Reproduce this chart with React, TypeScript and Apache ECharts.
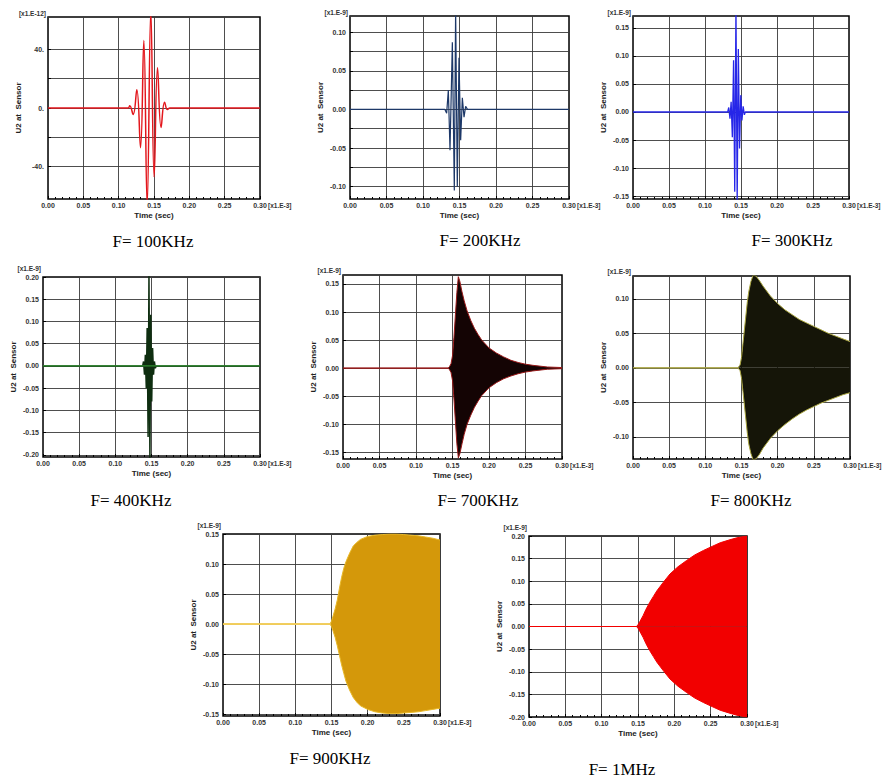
import React, { useEffect, useRef } from "react";
import * as echarts from "echarts";

// ---------- data (time in 1e-3 s, U2 scaled by the unit shown on each panel) ----------
const captions = ["F= 100KHz", "F= 200KHz", "F= 300KHz", "F= 400KHz", "F= 700KHz", "F= 800KHz", "F= 900KHz", "F= 1MHz"];
const yUnits = ["[x1.E-12]", "[x1.E-9]", "[x1.E-9]", "[x1.E-9]", "[x1.E-9]", "[x1.E-9]", "[x1.E-9]", "[x1.E-9]"];
const xUnit = "[x1.E-3]";

// 100 KHz burst extrema (x1.E-12)
const t100 = [0, 0.1134, 0.1157, 0.1205, 0.1257, 0.1309, 0.1356, 0.1403, 0.1455, 0.1502, 0.155, 0.16, 0.165, 0.169, 0.1724, 0.3];
const u100 = [0, 0, 1.5, -4.4, 12.5, -27, 46, -66, 66, -47, 27.5, -13.3, 4, -1, 0, 0];

// 200 KHz burst extrema
const t200 = [0, 0.13, 0.1324, 0.1347, 0.137, 0.1402, 0.1429, 0.1447, 0.147, 0.1493, 0.1516, 0.1539, 0.1562, 0.1584, 0.161, 0.3];
const u200 = [0, 0, -0.005, 0.025, -0.053, 0.087, -0.105, 0.13, -0.1, 0.067, -0.04, 0.015, -0.01, 0.004, 0, 0];

// 300 KHz burst extrema
const t300 = [0, 0.1315, 0.133, 0.1347, 0.1363, 0.138, 0.1397, 0.1413, 0.143, 0.1447, 0.1463, 0.148, 0.1497, 0.1513, 0.153, 0.1547, 0.156, 0.3];
const u300 = [0, 0, 0.008, -0.012, 0.018, -0.045, 0.092, -0.142, 0.19, -0.16, 0.112, -0.065, 0.03, -0.015, 0.01, -0.005, 0, 0];

// 400 KHz burst extrema
const t400 = [0, 0.1378, 0.139, 0.1403, 0.1415, 0.1428, 0.144, 0.1453, 0.1465, 0.1478, 0.149, 0.1503, 0.1515, 0.1528, 0.154, 0.1553, 0.1565, 0.3];
const u400 = [0, 0, 0.01, -0.02, 0.025, -0.05, 0.085, -0.16, 0.21, -0.21, 0.115, -0.08, 0.04, -0.02, 0.01, -0.005, 0, 0];

// 700 KHz envelope
const t700 = [0, 0.144, 0.146, 0.148, 0.15, 0.152, 0.154, 0.156, 0.158, 0.16, 0.163, 0.166, 0.17, 0.175, 0.18, 0.185, 0.19, 0.2, 0.21, 0.22, 0.23, 0.24, 0.25, 0.26, 0.28, 0.3];
const up700 = [0, 0, 0.003, 0.008, 0.022, 0.055, 0.095, 0.135, 0.163, 0.155, 0.136, 0.12, 0.102, 0.085, 0.071, 0.06, 0.05, 0.036, 0.027, 0.02, 0.014, 0.01, 0.007, 0.005, 0.002, 0.001];
const lo700 = [0, 0, -0.003, -0.008, -0.022, -0.055, -0.095, -0.135, -0.16, -0.153, -0.135, -0.118, -0.1, -0.084, -0.07, -0.059, -0.049, -0.035, -0.026, -0.019, -0.014, -0.01, -0.007, -0.005, -0.002, -0.001];

// 800 KHz envelope
const t800 = [0, 0.145, 0.148, 0.15, 0.152, 0.154, 0.156, 0.158, 0.16, 0.163, 0.166, 0.17, 0.175, 0.18, 0.19, 0.2, 0.21, 0.22, 0.23, 0.24, 0.25, 0.26, 0.27, 0.28, 0.29, 0.3];
const up800 = [0, 0, 0.004, 0.015, 0.035, 0.055, 0.075, 0.095, 0.11, 0.125, 0.134, 0.133, 0.126, 0.118, 0.104, 0.093, 0.084, 0.077, 0.07, 0.065, 0.06, 0.055, 0.05, 0.046, 0.042, 0.038];
const lo800 = [0, 0, -0.004, -0.015, -0.034, -0.054, -0.074, -0.094, -0.11, -0.124, -0.133, -0.132, -0.125, -0.116, -0.102, -0.091, -0.082, -0.074, -0.067, -0.061, -0.056, -0.051, -0.047, -0.043, -0.039, -0.036];

// 900 KHz envelope
const t900 = [0, 0.148, 0.15, 0.152, 0.155, 0.158, 0.161, 0.164, 0.167, 0.17, 0.175, 0.18, 0.185, 0.19, 0.2, 0.21, 0.22, 0.23, 0.24, 0.25, 0.26, 0.27, 0.28, 0.29, 0.3];
const up900 = [0, 0, 0.005, 0.013, 0.025, 0.04, 0.06, 0.078, 0.093, 0.104, 0.118, 0.13, 0.136, 0.141, 0.146, 0.148, 0.149, 0.15, 0.15, 0.149, 0.148, 0.147, 0.145, 0.143, 0.14];
const lo900 = [0, 0, -0.004, -0.011, -0.022, -0.036, -0.052, -0.068, -0.082, -0.095, -0.11, -0.122, -0.13, -0.136, -0.142, -0.146, -0.148, -0.149, -0.149, -0.148, -0.147, -0.146, -0.144, -0.142, -0.14];

// 1 MHz envelope
const t1000 = [0, 0.148, 0.15, 0.153, 0.157, 0.161, 0.166, 0.171, 0.176, 0.185, 0.194, 0.205, 0.217, 0.228, 0.24, 0.252, 0.263, 0.275, 0.286, 0.3];
const up1000 = [0, 0, 0.004, 0.012, 0.024, 0.038, 0.053, 0.066, 0.079, 0.098, 0.116, 0.132, 0.146, 0.158, 0.168, 0.177, 0.185, 0.191, 0.196, 0.2];
const lo1000 = [0, 0, -0.004, -0.012, -0.024, -0.038, -0.053, -0.066, -0.079, -0.098, -0.116, -0.132, -0.146, -0.158, -0.168, -0.177, -0.185, -0.191, -0.196, -0.2];

// y axis ranges, grid-line values and labelled values
const yMin = [-62, -0.116, -0.155, -0.205, -0.162, -0.132, -0.153, -0.2];
const yMax = [62, 0.121, 0.171, 0.2, 0.166, 0.133, 0.15, 0.2];
const yGridValues = [
  [-40, -20, 0, 20, 40],
  [-0.1, -0.075, -0.05, -0.025, 0, 0.025, 0.05, 0.075, 0.1],
  [-0.15, -0.1, -0.05, 0, 0.05, 0.1, 0.15],
  [-0.2, -0.15, -0.1, -0.05, 0, 0.05, 0.1, 0.15, 0.2],
  [-0.15, -0.1, -0.05, 0, 0.05, 0.1, 0.15],
  [-0.1, -0.05, 0, 0.05, 0.1],
  [-0.15, -0.1, -0.05, 0, 0.05, 0.1, 0.15],
  [-0.2, -0.15, -0.1, -0.05, 0, 0.05, 0.1, 0.15, 0.2],
];
const yLabelValues = [
  [-40, 0, 40],
  [-0.1, -0.05, 0, 0.05, 0.1],
  [-0.15, -0.1, -0.05, 0, 0.05, 0.1, 0.15],
  [-0.2, -0.15, -0.1, -0.05, 0, 0.05, 0.1, 0.15, 0.2],
  [-0.15, -0.1, -0.05, 0, 0.05, 0.1, 0.15],
  [-0.1, -0.05, 0, 0.05, 0.1],
  [-0.15, -0.1, -0.05, 0, 0.05, 0.1, 0.15],
  [-0.2, -0.15, -0.1, -0.05, 0, 0.05, 0.1, 0.15, 0.2],
];

// ---------- layout & style ----------
const layout = [
  { left: 48, top: 17, width: 212, height: 182, cx: 153, cy: 241, uy: 4 },
  { left: 350, top: 16, width: 219, height: 183, cx: 480, cy: 240, uy: 4 },
  { left: 633, top: 16, width: 216, height: 183, cx: 792, cy: 240, uy: 4 },
  { left: 43, top: 277, width: 217, height: 180, cx: 131, cy: 500, uy: 9 },
  { left: 343, top: 275, width: 219, height: 184, cx: 478, cy: 500, uy: 5 },
  { left: 633, top: 276, width: 217, height: 183, cx: 751, cy: 500, uy: 5 },
  { left: 223, top: 534, width: 217, height: 182, cx: 330, cy: 758, uy: 9 },
  { left: 529, top: 536, width: 218, height: 181, cx: 622, cy: 769, uy: 9 },
];

const SANS = "Liberation Sans, Arial, sans-serif";
const SERIF = "Liberation Serif, Times New Roman, serif";

const pairs = (t: number[], v: number[]) => t.map((x, k) => [x, v[k]]);

function lineSeries(i: number, data: number[][], color: string, width: number, smooth: number | boolean = false, z = 2) {
  return {
    type: "line",
    xAxisIndex: i,
    yAxisIndex: i,
    data,
    showSymbol: false,
    smooth,
    z,
    lineStyle: { color, width },
    itemStyle: { color },
  };
}

function bandSeries(i: number, data: number[][], fill: string, edge: string) {
  return {
    type: "line",
    xAxisIndex: i,
    yAxisIndex: i,
    data,
    showSymbol: false,
    lineStyle: { color: edge, width: 1 },
    itemStyle: { color: edge },
    areaStyle: { color: fill, opacity: 1 },
  };
}

export default function App() {
  const ref = useRef<HTMLDivElement>(null);

  useEffect(() => {
    if (!ref.current) return;
    const chart = echarts.init(ref.current, undefined, { renderer: "svg" });

    const grid = layout.map((p) => ({
      left: p.left,
      top: p.top,
      width: p.width,
      height: p.height,
      show: true,
      borderColor: "#000",
      borderWidth: 1.5,
      backgroundColor: "#fff",
      containLabel: false,
    }));

    const xAxis = layout.map((_, i) => ({
      type: "value",
      gridIndex: i,
      position: "bottom",
      min: 0,
      max: 0.3,
      interval: 0.05,
      axisLine: { show: false, onZero: false },
      axisTick: { show: true, inside: true, length: 3, lineStyle: { color: "#000" } },
      minorTick: { show: true, splitNumber: 5, length: 2, lineStyle: { color: "#000" } },
      splitLine: { show: true, lineStyle: { color: "#3a3a3a", width: 0.9 } },
      axisLabel: {
        fontSize: 7,
        fontWeight: "bold",
        fontFamily: SANS,
        color: "#333",
        margin: 3,
        formatter: (v: number) => v.toFixed(2),
      },
      name: "Time (sec)",
      nameLocation: "middle",
      nameGap: 12,
      nameTextStyle: { fontSize: 8, fontWeight: "bold", fontFamily: SANS, color: "#222" },
    }));

    const yAxis = layout.map((_, i) => ({
      type: "value",
      gridIndex: i,
      position: "left",
      min: yMin[i],
      max: yMax[i],
      axisLine: { show: false, onZero: false },
      axisTick: { show: true, inside: true, length: 3, customValues: yGridValues[i], lineStyle: { color: "#000" } },
      splitLine: { show: true, lineStyle: { color: "#3a3a3a", width: 0.9 } },
      axisLabel: {
        customValues: yLabelValues[i],
        fontSize: 7,
        fontWeight: "bold",
        fontFamily: SANS,
        color: "#333",
        margin: 4,
        formatter: (v: number) => (i === 0 ? `${Math.round(v)}.` : v.toFixed(2)),
      },
      name: "U2 at  Sensor",
      nameLocation: "middle",
      nameGap: 26,
      nameTextStyle: { fontSize: 8, fontWeight: "bold", fontFamily: SANS, color: "#222" },
    }));

    const series: any[] = [
      lineSeries(0, pairs(t100, u100), "#e3161c", 1.5, 0.45),
      lineSeries(1, pairs(t200, u200), "#1d3868", 1.2),
      lineSeries(2, pairs(t300, u300), "#2626e8", 1.3),
      lineSeries(3, pairs(t400, u400), "#0e2e10", 1.5),
      lineSeries(3, pairs([0, 0.3], [0, 0]), "#2f8f2f", 1.4, false, 3),
      bandSeries(4, pairs(t700, up700), "#140404", "#9a1a1a"),
      bandSeries(4, pairs(t700, lo700), "#140404", "#9a1a1a"),
      bandSeries(5, pairs(t800, up800), "#151508", "#a8a440"),
      bandSeries(5, pairs(t800, lo800), "#151508", "#a8a440"),
      bandSeries(6, pairs(t900, up900), "#d4980a", "#e8b828"),
      bandSeries(6, pairs(t900, lo900), "#d4980a", "#e8b828"),
      lineSeries(6, pairs([0, 0.149], [0, 0]), "#f0cc5a", 1.6, false, 3),
      bandSeries(7, pairs(t1000, up1000), "#f20000", "#f20000"),
      bandSeries(7, pairs(t1000, lo1000), "#f20000", "#f20000"),
    ];

    const graphic: any[] = [];
    layout.forEach((p, i) => {
      graphic.push({
        type: "text",
        x: p.left - 2,
        y: p.top - p.uy,
        style: {
          text: yUnits[i],
          font: `bold 6.5px ${SANS}`,
          fill: "#333",
          align: "right",
          textAlign: "right",
          verticalAlign: "middle",
          textVerticalAlign: "middle",
        },
      });
      graphic.push({
        type: "text",
        x: p.left + p.width + 8,
        y: p.top + p.height + 6,
        style: {
          text: xUnit,
          font: `bold 6.5px ${SANS}`,
          fill: "#333",
          align: "left",
          textAlign: "left",
          verticalAlign: "middle",
          textVerticalAlign: "middle",
        },
      });
      graphic.push({
        type: "text",
        x: p.cx,
        y: p.cy,
        style: {
          text: captions[i],
          font: `17px ${SERIF}`,
          fill: "#000",
          align: "center",
          textAlign: "center",
          verticalAlign: "middle",
          textVerticalAlign: "middle",
        },
      });
    });

    chart.setOption({
      animation: false,
      backgroundColor: "#fff",
      grid,
      xAxis,
      yAxis,
      series,
      graphic,
    });

    return () => chart.dispose();
  }, []);

  return <div ref={ref} style={{ position: "absolute", left: 0, top: 0, width: 887, height: 779 }} />;
}
